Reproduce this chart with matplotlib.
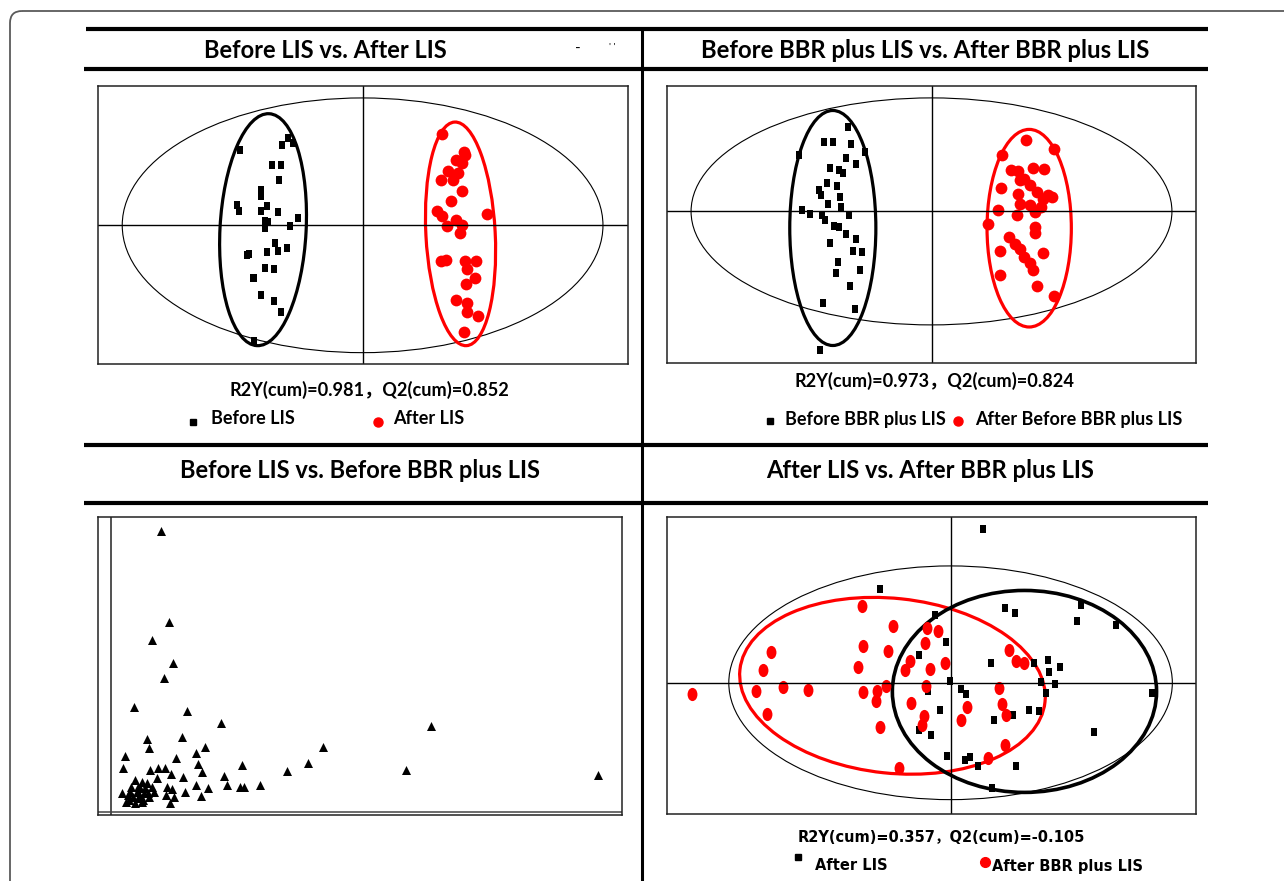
import numpy as np
import matplotlib.pyplot as plt
from matplotlib.patches import Ellipse, FancyBboxPatch
from matplotlib.markers import MarkerStyle
from matplotlib.transforms import Affine2D

# ---- score data (t[1], t[2]) for each comparison ----
# Before LIS vs. After LIS
p1_before_x = [-3.70, -3.47, -4.04, -6.11, -4.53, -4.09, -4.18, -5.09, -5.05, -6.28, -6.19,
               -4.79, -5.09, -4.23, -3.25, -4.88, -4.70, -4.88, -3.61, -4.35, -4.21, -3.79,
               -5.67, -5.79, -4.79, -4.88, -4.44, -5.49, -5.40, -5.09, -4.44, -4.09, -5.40]
p1_before_y = [4.37, 4.12, 4.03, 3.78, 3.03, 3.03, 2.28, 1.78, 1.45, 1.03, 0.70,
               0.95, 0.70, 0.67, 0.37, 0.20, 0.15, -0.13, -0.05, -0.88, -1.30, -1.13,
               -1.42, -1.47, -1.33, -2.13, -2.22, -2.63, -2.63, -3.52, -3.80, -4.35, -5.83]
p1_after_x = [3.98, 5.04, 5.12, 4.68, 4.95, 4.25, 4.77, 3.89, 4.51, 4.95, 4.42, 3.72, 3.98,
              6.23, 4.68, 4.21, 4.95, 4.86, 4.16, 3.89, 5.12, 5.65, 5.21, 5.60, 5.16, 4.68,
              5.21, 5.21, 5.74, 5.04]
p1_after_y = [4.58, 3.70, 3.53, 3.28, 3.12, 2.75, 2.62, 2.28, 2.28, 1.70, 1.20, 0.70, 0.45,
              0.58, 0.28, -0.05, 0.03, -0.38, -1.72, -1.80, -1.80, -1.80, -2.22, -2.63, -2.97,
              -3.75, -3.88, -4.38, -4.58, -5.38]

# Before BBR plus LIS vs. After BBR plus LIS
p2_before_x = [-4.17, -5.37, -4.91, -4.04, -6.61, -3.33, -4.26, -3.76, -5.06, -4.63, -4.41,
               -5.24, -4.72, -5.61, -5.52, -4.57, -5.19, -4.54, -6.48, -6.06, -5.46, -4.11,
               -5.31, -4.87, -4.63, -4.30, -3.80, -5.06, -3.94, -3.48, -4.69, -3.57, -4.80,
               -4.06, -5.41, -3.85, -5.56]
p2_before_y = [4.22, 3.47, 3.47, 3.38, 2.80, 2.97, 2.68, 2.38, 2.18, 2.08, 1.93,
               1.42, 1.25, 1.08, 0.80, 0.72, 0.35, 0.22, 0.08, -0.12, -0.20, -0.20,
               -0.45, -0.73, -0.78, -1.15, -1.38, -1.57, -1.98, -2.03, -2.53, -2.92, -3.08,
               -3.72, -4.57, -4.90, -6.95]
p2_after_x = [4.72, 6.15, 3.52, 3.98, 4.35, 5.06, 5.65, 4.63, 4.44, 4.91, 5.28, 3.46, 4.35,
              5.83, 5.56, 6.02, 4.44, 4.94, 5.46, 3.33, 4.26, 5.19, 2.83, 5.19, 5.19, 3.89,
              4.17, 4.44, 3.43, 4.63, 5.56, 4.91, 5.09, 3.43, 5.28, 6.11]
p2_after_y = [3.58, 3.10, 2.80, 2.08, 2.02, 2.18, 2.13, 1.63, 1.55, 1.30, 0.97, 1.17, 0.88,
              0.80, 0.63, 0.72, 0.38, 0.30, 0.22, 0.05, -0.20, -0.03, -0.62, -0.78, -1.08, -1.28,
              -1.62, -1.87, -1.98, -2.28, -2.08, -2.58, -2.92, -3.20, -3.73, -4.25]

# Before LIS vs. Before BBR plus LIS
p3_x = [2.46, 2.89, 2.02, 3.07, 2.61, 1.14, 3.79, 5.49, 15.98, 3.53, 1.79, 1.88, 4.68, 4.21,
        10.60, 0.70, 3.25, 4.33, 6.54, 9.82, 0.58, 1.91, 2.32, 2.67, 4.53, 2.98, 8.77, 14.72,
        24.33, 3.60, 5.65, 2.28, 1.18, 1.53, 1.79, 1.00, 1.35, 1.70, 2.05, 4.25, 4.82, 5.79,
        6.44, 6.61, 7.42, 2.79, 3.04, 3.70, 0.51, 0.82, 1.09, 1.44, 1.88, 0.74, 1.18, 1.53,
        2.75, 3.14, 4.47, 2.93, 1.26, 1.61, 0.91, 1.35, 0.88, 1.58, 1.84, 1.44, 2.14]
p3_y = [14.08, 9.53, 8.62, 7.48, 6.70, 5.25, 5.07, 4.45, 4.33, 3.75, 3.65, 3.20, 3.25, 2.98,
        3.25, 2.83, 2.73, 2.40, 2.37, 2.45, 2.20, 2.12, 2.20, 2.20, 2.00, 1.90, 2.08, 2.12,
        1.87, 1.78, 1.83, 1.70, 1.62, 1.53, 1.45, 1.28, 1.25, 1.20, 1.28, 1.37, 1.20, 1.37,
        1.25, 1.25, 1.37, 1.28, 1.15, 1.03, 0.95, 0.87, 0.78, 0.82, 0.78, 0.53, 0.48, 0.53,
        0.87, 0.75, 0.82, 0.45, 1.03, 0.98, 1.03, 0.70, 0.62, 0.62, 0.95, 1.20, 1.03]

# After LIS vs. After BBR plus LIS
p4_lis_x = [1.64, -3.52, 2.73, 3.25, 6.55, 6.34, 8.27, -0.80, -0.23, -1.57, 2.02, 4.16, 4.88,
            5.48, 4.95, -0.04, 4.55, 5.23, 4.79, -1.13, 0.54, 0.77, 10.09, -0.54, 3.13, 3.93,
            4.43, 2.18, -1.57, -0.98, 7.20, -0.18, 0.71, 0.98, 1.39, 3.30, 2.09]
p4_lis_y = [7.63, 4.67, 3.72, 3.45, 3.88, 3.05, 2.88, 3.37, 2.05, 1.37, 1.00, 0.97, 1.12,
            0.80, 0.53, 0.08, 0.05, -0.08, -0.50, -0.42, -0.33, -0.58, -0.50, -1.37, -1.62, -1.33,
            -1.42, -1.87, -2.37, -2.58, -2.47, -3.62, -3.83, -3.67, -4.13, -4.12, -5.22]
p4_bbr_x = [-12.95, -4.46, -2.86, -1.16, -0.63, -1.30, -8.98, -4.38, -3.13, -2.05, -9.38, -4.64,
            -2.27, -1.04, -0.27, 2.95, 3.30, 3.66, -9.73, -8.39, -7.14, -4.38, -3.21, -3.66,
            -3.75, -1.25, 2.41, -1.96, 0.80, 2.59, 2.77, -1.34, -1.43, 0.54, -3.52, 2.73, 1.88,
            -2.59, -9.20]
p4_bbr_y = [-0.55, 3.83, 2.83, 2.75, 2.58, 2.00, 1.53, 1.83, 1.58, 1.08, 0.63, 0.80,
            0.62, 0.70, 1.00, 1.62, 1.08, 1.00, -0.42, -0.22, -0.37, -0.45, -0.17, -0.42,
            -0.92, -0.17, -0.28, -1.00, -1.20, -1.08, -1.58, -1.67, -2.08, -1.87, -2.20, -3.08, -3.75,
            -4.22, -1.53]

stats = ["R2Y(cum)=0.981，Q2(cum)=0.852",
         "R2Y(cum)=0.973，Q2(cum)=0.824",
         "R2Y(cum)=0.357，Q2(cum)=-0.105"]

W, H = 1284, 881
fig = plt.figure(figsize=(W / 100, H / 100), dpi=100)
RED = '#ff0000'
TITLE_FONT = ['Lato', 'Noto Sans CJK SC', 'DejaVu Sans']
WIDE_FONT = ['DejaVu Sans', 'Noto Sans CJK SC']

# full-figure layer in pixel units for rules, titles and legends
lay = fig.add_axes([0, 0, 1, 1])
lay.set_xlim(0, W)
lay.set_ylim(H, 0)
lay.axis('off')

frame = FancyBboxPatch((10, 11), 1400, 1000, boxstyle='round,pad=0,rounding_size=12',
                       fill=False, ec='#5a5a5a', lw=1.3, clip_on=False)
lay.add_patch(frame)
for yy, x0 in [(29, 86), (69, 84), (445, 84), (503, 84)]:
    lay.plot([x0, 1208], [yy, yy], color='black', lw=3.0, solid_capstyle='butt')
lay.plot([642, 642], [29, H], color='black', lw=2.2)

lay.text(325, 50, "Before LIS vs. After LIS", ha='center', va='center',
         fontsize=17, fontweight='bold', family=TITLE_FONT)
lay.text(578, 49, "-", ha='center', va='center', fontsize=11, family=TITLE_FONT)
lay.text(612, 47, "' '", ha='center', va='center', fontsize=7, family=TITLE_FONT)
lay.text(925, 50, "Before BBR plus LIS vs. After BBR plus LIS", ha='center', va='center',
         fontsize=17.2, fontweight='bold', family=TITLE_FONT)
lay.text(360, 470, "Before LIS vs. Before BBR plus LIS", ha='center', va='center',
         fontsize=17, fontweight='bold', family=TITLE_FONT)
lay.text(930, 470, "After LIS vs. After BBR plus LIS", ha='center', va='center',
         fontsize=17.1, fontweight='bold', family=TITLE_FONT)

# statistics and legends
lay.text(369, 390, stats[0], ha='center', va='center', fontsize=13.1,
         fontweight='bold', family=TITLE_FONT)
lay.text(935, 381, stats[1], ha='center', va='center', fontsize=13.1,
         fontweight='bold', family=TITLE_FONT)
lay.text(941, 837, stats[2], ha='center', va='center', fontsize=10.5,
         fontweight='bold', family=WIDE_FONT)

sq = MarkerStyle('s', transform=Affine2D().scale(0.8, 1.0))
lay.plot([193], [422], marker=sq, ms=5, color='black', ls='none')
lay.text(211, 419, "Before LIS", va='center', fontsize=13, fontweight='bold', family=TITLE_FONT)
lay.plot([378], [422], marker='o', ms=6.5, color=RED, ls='none')
lay.text(393, 419, "After LIS", va='center', fontsize=13, fontweight='bold', family=TITLE_FONT)
lay.plot([770], [421], marker=sq, ms=5, color='black', ls='none')
lay.text(785, 419, "Before BBR plus LIS", va='center', fontsize=13, fontweight='bold',
         family=TITLE_FONT)
lay.plot([958], [421], marker='o', ms=6.5, color=RED, ls='none')
lay.text(975, 419, "After Before BBR plus LIS", va='center', fontsize=13, fontweight='bold',
         family=TITLE_FONT)
lay.plot([798], [857], marker='s', ms=5, color='black', ls='none')
lay.text(815, 866, "After LIS", va='center', fontsize=10.5, fontweight='bold', family=WIDE_FONT)
lay.plot([985], [862], marker='o', ms=7, color=RED, ls='none')
lay.text(992, 866, "After BBR plus LIS", va='center', fontsize=10.5, fontweight='bold',
         family=WIDE_FONT)


def px_axes(x0, y0, x1, y1):
    return fig.add_axes([x0 / W, 1 - y1 / H, (x1 - x0) / W, (y1 - y0) / H])


def score_axes(box, xlim, ylim, cross=True):
    ax = px_axes(*box)
    ax.set_xlim(xlim)
    ax.set_ylim(ylim)
    ax.set_xticks([])
    ax.set_yticks([])
    for sp in ax.spines.values():
        sp.set_linewidth(1.1)
        sp.set_color('#222222')
    if cross:
        ax.axhline(0, color='black', lw=1.0)
        ax.axvline(0, color='black', lw=1.0)
    return ax


def ring(ax, xy, w, h, color, lw, angle=0):
    ax.add_patch(Ellipse(xy, w, h, angle=angle, fill=False, ec=color, lw=lw))


square = MarkerStyle('s', transform=Affine2D().scale(0.85, 1.0))
tall_dot = MarkerStyle('o', transform=Affine2D().scale(0.75, 1.0))

# top-left
ax1 = score_axes((98, 86, 628, 364), (-13.21, 13.25), (-6.97, 7.0))
ring(ax1, (0, 0), 24.0, 12.8, 'black', 0.8)
ring(ax1, (-4.97, -0.22), 4.30, 11.67, 'black', 2.3, angle=-3)
ring(ax1, (4.89, -0.43), 3.46, 11.25, RED, 2.3, angle=3)
ax1.scatter(p1_before_x, p1_before_y, marker=square, s=26, c='black', linewidths=0)
ax1.scatter(p1_after_x, p1_after_y, marker='o', s=72, c=RED, linewidths=0)

# top-right
ax2 = score_axes((667, 86, 1196, 363), (-13.24, 13.24), (-7.58, 6.27))
ring(ax2, (0, 0), 24.07, 11.35, 'black', 0.8)
ring(ax2, (-4.94, -0.83), 4.31, 11.75, 'black', 2.3)
ring(ax2, (4.89, -0.84), 4.22, 9.88, RED, 2.3)
ax2.scatter(p2_before_x, p2_before_y, marker=square, s=26, c='black', linewidths=0)
ax2.scatter(p2_after_x, p2_after_y, marker='o', s=72, c=RED, linewidths=0)

# bottom-left
ax3 = score_axes((98, 517, 622, 815), (-0.67, 25.53), (-0.13, 14.78), cross=False)
ax3.axvline(0, color='#222222', lw=1.1)
ax3.axhline(0, color='#444444', lw=1.1)
ax3.scatter(p3_x, p3_y, marker='^', s=42, c='black', linewidths=0)

# bottom-right
ax4 = score_axes((667, 517, 1196, 814), (-14.20, 12.29), (-6.53, 8.25))
ring(ax4, (0, 0), 22.21, 11.63, 'black', 0.8)
ring(ax4, (-2.91, -0.15), 15.36, 8.7, RED, 2.3, angle=-6)
ring(ax4, (3.70, -0.43), 13.23, 10.05, 'black', 2.6)
ax4.scatter(p4_lis_x, p4_lis_y, marker=square, s=30, c='black', linewidths=0)
ax4.scatter(p4_bbr_x, p4_bbr_y, marker=tall_dot, s=90, c=RED, linewidths=0)

fig.savefig('out.png', dpi=100)
